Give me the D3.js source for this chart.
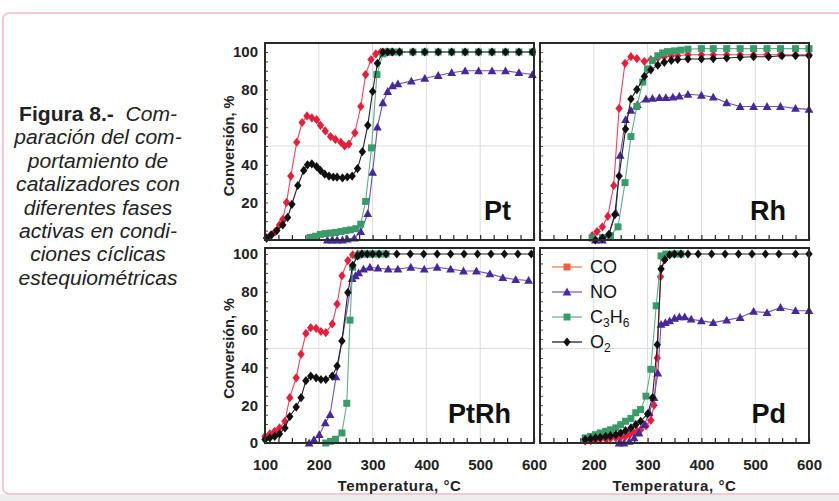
<!DOCTYPE html>
<html>
<head>
<meta charset="utf-8">
<script src="https://cdn.jsdelivr.net/npm/d3@7"></script>
<style>
  body { margin: 0; background: #fff; }
  svg text { font-family: "Liberation Sans", Arial, sans-serif; }
</style>
</head>
<body>
<svg width="839" height="501"></svg>
<script>
// ---- data: [temperature °C, conversion %] ----
const ptCO = [[103,1],[110,2.5],[119,4.5],[127,8],[133,11],[140,20],[148,34],[159,52],[169,62.5],[178,66],[187,65],[196,64],[203,61],[212,58],[222,55],[231,53.5],[241,52],[248,50],[256,51],[267,57],[278,71],[287,88],[297,96],[306,99],[315,100],[325,100],[335,100],[350,100]];
const ptNO = [[216,0],[225,0],[234,0],[244,0],[253,0.5],[266,1],[278,4.5],[291,14],[300,36],[309,60],[319,73],[328,79],[337,82],[347,83],[372,84.5],[397,86],[422,87.5],[447,89],[472,90],[497,90],[522,90],[547,90],[572,89],[597,88]];
const ptC3H6 = [[184,1.4],[194,2],[203,3],[212,3.4],[222,3.7],[231,4],[241,4.5],[250,5],[259,5.4],[269,6],[278,8.4],[287,20.5],[298,49],[308,88],[319,99],[328,100],[337,100],[350,100],[375,100],[397,100],[422,100],[447,100],[472,100],[497,100],[522,100],[547,100],[572,100],[597,100]];
const ptO2 = [[103,1],[112,2.7],[122,5],[133,8],[142,12],[150,19],[161,29],[172,37],[179,40],[187,40.5],[196,39],[203,37],[211,35],[219,34],[227,33.5],[234,33.4],[244,33],[253,33.5],[262,34],[272,38],[281,47],[291,61],[300,79],[309,94],[319,100],[328,100],[337,100],[350,100],[375,100],[397,100],[422,100],[447,100],[472,100],[497,100],[522,100],[547,100],[572,100],[597,100]];

const rhCO = [[197,2.3],[206,4.5],[216,7],[226,12.6],[237,29],[247,70],[258,94],[269,97.5],[280,96.5],[294,95],[306,96],[319,97],[331,97.5],[344,98],[356,98],[375,98.5],[400,98.5],[422,98.5],[447,98.5],[472,98.5],[497,98.5],[522,98.5],[547,98.5],[575,98.5],[600,98.5]];
const rhNO = [[203,0],[216,0],[228,2.7],[241,14.4],[249,45],[259,64],[269,69],[281,72],[297,75],[309,75.3],[322,75.7],[334,75.7],[347,76],[359,76.5],[375,77.5],[400,77],[422,76],[447,73],[472,71],[497,71],[522,71],[547,71],[575,70],[600,69.5]];
const rhC3H6 = [[197,1],[216,1.3],[231,2.3],[245,7],[258,30.5],[269,55],[280,71],[291,84],[300,91],[309,95.5],[319,98],[328,99.5],[337,100.2],[350,100.6],[362,101],[375,101.5],[400,101.8],[422,101.8],[447,101.8],[472,101.8],[497,101.8],[522,101.8],[547,101.8],[575,101.8],[600,101.8]];
const rhO2 = [[203,0],[216,1],[228,3],[239,13.5],[247,34],[259,59],[269,75],[280,80],[294,87],[306,90.5],[319,93],[331,94.5],[344,95.5],[356,96],[375,96.3],[400,96.3],[422,96.5],[447,96.8],[472,97.2],[497,97.5],[525,97.5],[550,98],[575,98],[600,98]];

const ptrhCO = [[100,3.5],[109,4.8],[118,6.2],[127,8],[137,11.5],[146,24],[158,34.5],[167,47],[176,58],[185,61],[195,60.7],[204,59],[213,58.4],[225,63],[234,73.5],[243,88.5],[254,96.5],[263,99.6],[272,100],[280,100]];
const ptrhNO = [[182,0],[191,1.8],[201,4.4],[212,10.6],[221,15],[232,35],[262,87],[268,88.5],[274,90],[283,92],[295,93],[310,92.5],[329,92],[347,92],[371,93],[396,92],[420,93],[445,92],[469,91],[493,91],[518,89.5],[542,87.5],[566,86.5],[590,86]];
const ptrhC3H6 = [[213,0],[222,0.9],[231,2],[243,5.3],[252,21],[258,65],[263,93],[271,99],[280,100],[290,100],[300,100],[312,100],[325,100]];
const ptrhO2 = [[100,1.8],[109,2.7],[118,3.5],[127,4.8],[137,8],[146,14],[158,19],[167,24],[176,33],[185,35.4],[195,34.5],[204,33.6],[213,33.6],[225,35.4],[234,40.7],[243,54],[254,79.6],[263,94],[272,99],[280,100],[290,100],[300,100],[312,100],[325,100],[345,100],[370,100],[395,100],[420,100],[445,100],[470,100],[495,100],[520,100],[545,100],[570,100],[595,100]];

const pdCO = [[184,1],[194,1.2],[203,1.6],[212,2],[222,2.2],[231,2.5],[241,2.7],[250,3],[259,3.5],[267,4.5],[275,5.3],[281,6],[287,7],[297,9],[306,12],[312,20],[318,45],[324,88],[331,97],[341,99.5],[350,100],[362,100]];
const pdNO = [[247,0],[256,0],[266,0.9],[275,2.7],[284,5.3],[294,9.7],[303,16],[312,24],[319,37],[325,62.8],[333,63.7],[341,64.6],[350,66],[359,66.7],[369,66.7],[381,65.5],[400,64.6],[422,63.7],[447,65],[472,66.4],[497,69.6],[522,69],[547,71.7],[575,70],[600,70]];
const pdC3H6 = [[184,2.7],[194,3.5],[203,4.4],[212,5.3],[222,6.2],[231,7],[241,8],[250,9.7],[259,11.5],[269,13],[278,16],[287,17.7],[297,24.8],[306,39],[316,72.6],[325,99],[334,100],[350,100],[362,100]];
const pdO2 = [[184,1.8],[194,2.3],[203,2.7],[212,3],[222,3.5],[231,3.9],[241,4.4],[250,5.3],[259,6.5],[269,8],[278,9.7],[287,11.5],[300,15.4],[309,24],[318,52],[325,92],[332,97],[341,99.6],[350,100],[362,100],[375,100],[394,100],[419,100],[444,100],[469,100],[494,100],[519,100],[544,100],[575,100],[600,100]];

const seriesNames = ["CO", "NO", "C3H6", "O2"];
const xTickLabels = [100, 200, 300, 400, 500, 600];
const yTickLabels = [0, 20, 40, 60, 80, 100];
const captionLines = ["paración del com-", "portamiento de", "catalizadores con", "diferentes fases", "activas en condi-", "ciones cíclicas", "estequiométricas"];

const svg = d3.select("svg");

// page frame
svg.append("rect").attr("x", 0).attr("y", 494).attr("width", 839).attr("height", 7).attr("fill", "#ededed");
svg.append("rect").attr("x", 3).attr("y", 13).attr("width", 870).attr("height", 481).attr("rx", 6)
  .attr("fill", "#fff").attr("stroke", "#f4c8d2").attr("stroke-width", 2);

// caption
const cap = svg.append("text").attr("text-anchor", "middle").attr("font-size", 19.5).attr("fill", "#222")
  .attr("transform", "translate(98,0) scale(1.08,1)");
const first = cap.append("tspan").attr("x", 0).attr("y", 121);
first.append("tspan").attr("font-weight", "bold").text("Figura 8.-");
first.append("tspan").attr("font-style", "italic").text("\u00a0 Com-");
captionLines.forEach((t, i) => {
  cap.append("tspan").attr("x", 0).attr("y", 121 + (i + 1) * 23.4).attr("font-style", "italic").text(t);
});

const style = {
  CO:   { line: "#f2405a", fill: "#e3203c", shape: "diamond" },
  NO:   { line: "#6a52bc", fill: "#47289a", shape: "triangle" },
  C3H6: { line: "#5fae86", fill: "#3a9a6a", shape: "square" },
  O2:   { line: "#222222", fill: "#111111", shape: "diamond" }
};
const shapes = {
  diamond: "M0,-4.6L3.7,0L0,4.6L-3.7,0Z",
  triangle: "M0,-4.4L4.4,3.4L-4.4,3.4Z",
  square: "M-3.5,-3.5H3.5V3.5H-3.5Z"
};
const legendStyle = {
  CO:   { line: "#f27a5a", fill: "#ef6040", shape: "square" },
  NO:   { line: "#7a62c6", fill: "#4a2c9e", shape: "triangle" },
  C3H6: { line: "#6ab48e", fill: "#3a9a6a", shape: "square" },
  O2:   { line: "#222222", fill: "#111111", shape: "diamond" }
};

const panels = [
  { label: "Pt",   x0: 265, x1: 534, y0: 240, y100: 52,  top: 43,  data: [ptCO, ptNO, ptC3H6, ptO2],     yLab: true,  xLab: false },
  { label: "Rh",   x0: 540, x1: 809, y0: 240, y100: 52,  top: 43,  data: [rhCO, rhNO, rhC3H6, rhO2],     yLab: false, xLab: false },
  { label: "PtRh", x0: 265, x1: 534, y0: 443, y100: 254, top: 248, data: [ptrhCO, ptrhNO, ptrhC3H6, ptrhO2], yLab: true,  xLab: true },
  { label: "Pd",   x0: 540, x1: 809, y0: 443, y100: 254, top: 248, data: [pdCO, pdNO, pdC3H6, pdO2],     yLab: false, xLab: true, legend: true }
];

panels.forEach(p => {
  const x = d3.scaleLinear().domain([100, 600]).range([p.x0, p.x1]);
  const y = d3.scaleLinear().domain([0, 100]).range([p.y0, p.y100]);
  const g = svg.append("g");

  // grid
  g.selectAll(".gx").data([200, 300, 400, 500]).enter().append("line")
    .attr("x1", d => x(d)).attr("x2", d => x(d)).attr("y1", p.top).attr("y2", p.y0)
    .attr("stroke", "#dcdcdc").attr("stroke-width", 1);
  g.append("line").attr("x1", p.x0).attr("x2", p.x1).attr("y1", y(50)).attr("y2", y(50))
    .attr("stroke", "#dcdcdc").attr("stroke-width", 1);

  // ticks (inward)
  g.append("g").attr("transform", `translate(0,${p.y0})`)
    .call(d3.axisBottom(x).tickValues(d3.range(100, 601, 25)).tickSizeInner(-5).tickSizeOuter(0).tickFormat(""))
    .call(a => a.select(".domain").remove())
    .selectAll("line").attr("stroke", "#222").attr("stroke-width", 1.2);
  g.append("g").attr("transform", `translate(${p.x0},0)`)
    .call(d3.axisLeft(y).tickValues(d3.range(0, 101, 5)).tickSizeInner(-3).tickSizeOuter(0).tickFormat(""))
    .call(a => a.select(".domain").remove())
    .selectAll("line").attr("stroke", "#444");

  if (p.yLab) {
    const vals = p.top < 100 ? yTickLabels.filter(v => v > 0) : yTickLabels;
    g.append("g").attr("transform", `translate(${p.x0},0)`)
      .call(d3.axisLeft(y).tickValues(vals).tickSize(0).tickPadding(7))
      .call(a => a.select(".domain").remove())
      .selectAll("text").attr("font-size", 15).attr("font-weight", "bold").attr("fill", "#222")
      .style("font-family", "'Liberation Sans', Arial, sans-serif");
    g.append("text").attr("transform", `translate(229,${(p.y0 + p.y100) / 2}) rotate(-90)`)
      .attr("text-anchor", "middle").attr("dy", "0.35em").attr("font-size", 14.5).attr("font-weight", "bold")
      .attr("fill", "#222").text("Conversión, %");
  }
  if (p.xLab) {
    const vals = p.yLab ? xTickLabels : xTickLabels.filter(v => v > 100);
    g.append("g").attr("transform", `translate(0,${p.y0})`)
      .call(d3.axisBottom(x).tickValues(vals).tickSize(0).tickPadding(16))
      .call(a => a.select(".domain").remove())
      .selectAll("text").attr("font-size", 15).attr("font-weight", "bold").attr("fill", "#222")
      .style("font-family", "'Liberation Sans', Arial, sans-serif");
    g.append("text").attr("x", (p.x0 + p.x1) / 2).attr("y", 491).attr("text-anchor", "middle")
      .attr("font-size", 15).attr("font-weight", "bold").attr("letter-spacing", 0.6).attr("fill", "#222")
      .text("Temperatura, °C");
  }

  // series
  const line = d3.line().x(d => x(d[0])).y(d => y(d[1]));
  p.data.forEach((ser, i) => {
    const st = style[seriesNames[i]];
    g.append("path").datum(ser).attr("d", line).attr("fill", "none")
      .attr("stroke", st.line).attr("stroke-width", 1.1);
    g.selectAll(null).data(ser).enter().append("path")
      .attr("d", shapes[st.shape])
      .attr("transform", d => `translate(${x(d[0])},${y(d[1])})`)
      .attr("fill", st.fill);
  });

  // frame
  g.append("rect").attr("x", p.x0).attr("y", p.top).attr("width", p.x1 - p.x0).attr("height", p.y0 - p.top)
    .attr("fill", "none").attr("stroke", "#2a2a2a").attr("stroke-width", 2);

  // panel label
  g.append("text").attr("x", p.x1 - 23).attr("y", p.y0 - 20).attr("text-anchor", "end")
    .attr("font-size", 27).attr("font-weight", "bold").attr("fill", "#111").text(p.label);

  if (p.legend) {
    const leg = g.append("g").attr("transform", `translate(${p.x0 + 12},${p.top + 19})`);
    seriesNames.forEach((n, i) => {
      const st = legendStyle[n];
      const row = leg.append("g").attr("transform", `translate(0,${i * 25})`);
      row.append("line").attr("x1", 0).attr("x2", 30).attr("stroke", st.line).attr("stroke-width", 1.3);
      row.append("path").attr("d", shapes[st.shape]).attr("transform", "translate(15,0)").attr("fill", st.fill);
      const t = row.append("text").attr("x", 38).attr("dy", "0.36em").attr("font-size", 18).attr("fill", "#111");
      if (n === "C3H6") {
        t.append("tspan").text("C");
        t.append("tspan").attr("font-size", 12).attr("dy", 4).text("3");
        t.append("tspan").attr("dy", -4).text("H");
        t.append("tspan").attr("font-size", 12).attr("dy", 4).text("6");
      } else if (n === "O2") {
        t.append("tspan").text("O");
        t.append("tspan").attr("font-size", 12).attr("dy", 4).text("2");
      } else {
        t.text(n);
      }
    });
  }
});
</script>
</body>
</html>
